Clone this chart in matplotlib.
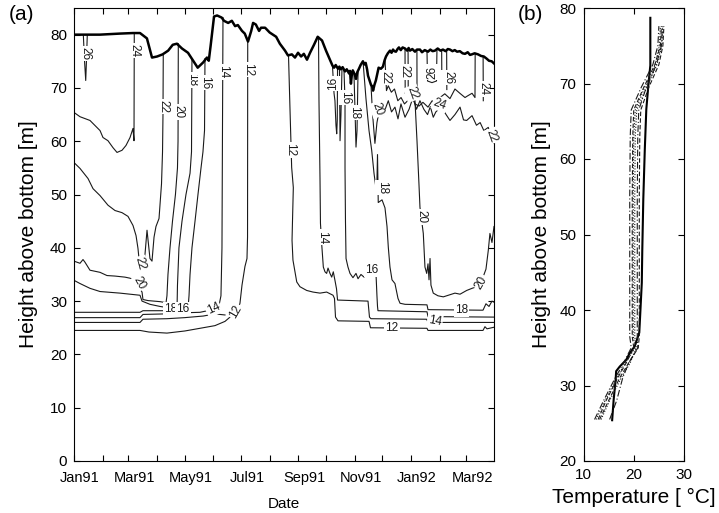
import numpy as np
import matplotlib
matplotlib.use("Agg")
import matplotlib.pyplot as plt
import matplotlib.dates as mdates
from matplotlib.transforms import ScaledTranslation

plt.rcParams['font.family'] = ['Liberation Sans', 'DejaVu Sans']

# ---------------- data (days since 1991-01-01, height above bottom [m]) ----------------
SURF_D = [0, 28, 50, 64, 71.5, 79, 84.5, 90, 96, 102, 107, 111.5, 117, 123.5, 131, 134, 140, 144, 146, 148,
          151.7, 155, 160, 162.5, 167, 171, 174.5, 177.5, 182, 185, 188.5, 192, 194, 197, 200.5, 202.6, 207,
          212, 219, 223, 228.6, 231.8, 236, 239.4, 242.7, 246, 249, 252.4, 255.7, 260, 264, 268.7, 273,
          278.4, 280, 281.7, 283.5, 286, 287.5, 289, 291, 293.6, 295.5, 298, 299, 300, 301, 302, 304, 305.5,
          307, 308.7, 310.5, 313, 314.5, 316, 317.5, 318.5, 320, 321.7, 323, 324, 325.5, 327, 328.5, 330,
          332.5, 334.7, 336.5, 338, 340, 342.3, 344, 345.6, 347, 348.8, 350.5, 352, 354, 356, 358.6, 361,
          362.5, 364, 366.5, 369.4, 371.5, 374.8, 377, 380, 383.5, 386, 388.5, 391, 394, 397, 399.7, 402.5,
          405, 407.3, 410, 412.5, 415, 418, 421, 423.6, 426.5, 429, 431, 434, 437.7, 441, 444, 447, 449.6,
          452.5, 455]
SURF_H = [80.0, 80.0, 80.2, 80.3, 80.3, 79.3, 75.7, 75.9, 76.3, 77.0, 78.1, 78.3, 77.4, 76.6, 74.6, 73.8, 74.8,
          75.7, 75.1, 77.9, 83.4, 83.6, 83.2, 82.6, 82.2, 82.6, 81.6, 81.8, 80.7, 80.2, 78.7, 80.7, 82.2, 81.9,
          80.7, 81.3, 81.3, 80.4, 79.6, 78.3, 77.0, 76.1, 76.3, 75.7, 76.6, 75.9, 76.4, 75.3, 76.6, 78.1, 79.6,
          78.9, 77.0,
          74.8, 74.2, 73.8, 74.3, 73.6, 74.0, 73.5, 73.9, 73.1, 73.5, 72.7, 73.2, 70.8, 72.5, 73.3, 72.6, 71.7,
          73.0, 73.6, 74.3, 75.0, 74.4, 74.7, 73.5, 72.3, 71.5, 70.6, 70.3, 69.5, 70.6, 71.4, 72.6, 73.8,
          73.6, 74.0, 75.2, 75.9, 76.5, 77.0, 76.6, 77.2, 76.9, 76.8, 77.3, 77.6, 77.1, 77.6, 77.4, 77.0,
          77.5, 77.0, 77.3, 76.8, 77.2, 77.2, 76.7, 77.1, 76.8, 77.2, 76.9, 77.0, 77.4, 77.0, 77.2, 76.9,
          77.3, 77.2, 76.9, 77.1, 76.8, 76.9, 76.5, 76.4, 76.7, 76.2, 76.3, 76.5, 76.3, 76.0, 75.9, 75.5, 75.1,
          75.0, 74.6]

# isotherms, left part (Jan-Jul 1991)
ISO26_D = [10.1, 11.4, 12.7, 13.5, 14.4]
ISO26_H = [80.0, 75.1, 71.4, 75.1, 80.0]
ISO24_D = [0, 6.5, 17.3, 28.2, 31.4, 36.8, 42.2, 46.6, 52, 56.3, 60.7, 63.9, 65.0, 65.3]
ISO24_H = [65.4, 64.6, 63.9, 62.0, 60.7, 60.1, 58.8, 57.9, 58.3, 59.2, 60.7, 62.4, 60.1, 80.3]
ISO22L_D = [0, 6.5, 15.2, 20.6, 28.2, 36.8, 44.4, 52, 58.5, 63.9, 67.2, 69.3, 70.4, 71.5, 75.8, 79.1, 82.3,
            84.5, 86.7, 88.8, 92.1, 94.8, 95.9, 96.4, 96.7]
ISO22L_H = [56.0, 54.9, 53.0, 51.1, 49.8, 48.0, 47.0, 46.6, 45.9, 44.2, 42.3, 39.9, 38.0, 36.7, 36.5, 43.3,
            38.0, 37.5, 42.0, 44.0, 45.5, 52.0, 58.0, 65.0, 76.3]
ISO20L_D = [0, 6.5, 9.75, 11.9, 17.3, 28.2, 35.7, 44.4, 55.2, 60.7, 65, 73.7, 74.7, 80.2, 93.2, 99.7, 100.7,
            101.8, 104, 106.7, 109.9, 112.1, 112.7, 113]
ISO20L_H = [37.5, 37.1, 37.8, 37.3, 35.8, 35.4, 34.8, 34.7, 34.5, 34.3, 33.9, 31.7, 30.3, 30.1, 29.9, 29.7,
            31.0, 35.0, 40.0, 45.0, 50.0, 55.0, 60.0, 78.3]
ISO18L_D = [0, 6.5, 17.3, 28.2, 49.8, 71.5, 73.7, 82.3, 93.2, 104, 109.4, 111.6, 112.1, 113.7, 117, 121.3,
            125.7, 127.3, 127.8]
ISO18L_H = [33.9, 33.3, 32.4, 31.8, 31.5, 31.1, 30.0, 29.4, 29.0, 28.7, 28.5, 28.5, 33.0, 40.0, 45.0, 50.0,
            54.0, 58.0, 75.4]
ISO16L_D = [0, 71.5, 74.7, 98.6, 106.2, 117, 123.5, 124.6, 125.7, 127.8, 131.1, 134.3, 137.6, 139.7, 141.4, 141.9]
ISO16L_H = [27.9, 27.9, 28.2, 28.2, 28.3, 28.4, 28.6, 31.0, 35.0, 40.0, 45.0, 50.0, 55.0, 58.0, 62.0, 75.5]
ISO14L_D = [0, 71.5, 74.7, 98.6, 117, 136.5, 141.9, 149.5, 157.1, 159.2, 159.7, 160.3, 160.8, 161.4]
ISO14L_H = [26.9, 26.9, 27.5, 27.6, 27.8, 27.9, 28.1, 28.4, 29.2, 31.0, 35.0, 40.0, 60.0, 83.2]
ISO13L_D = [0, 71.5, 74.7, 100.7, 120, 140, 152.7, 163.6]
ISO13L_H = [26.0, 26.0, 26.6, 26.7, 26.9, 27.2, 27.6, 27.4]
ISO12L_D = [0, 71.5, 81.2, 100.7, 120.2, 136.5, 152.7, 163.6, 169, 172.2, 174.4, 177.7, 179.8, 182, 185.2,
            187.4, 188, 188.2]
ISO12L_H = [24.5, 24.5, 24.2, 24.0, 24.4, 24.9, 25.4, 26.2, 27.0, 27.3, 27.9, 28.5, 29.6, 33.0, 36.5, 38.0,
            42.0, 79.0]

# isotherms, right part (Aug 1991 - Mar 1992)
ISO12R_D = [232.4, 234, 235.8, 237.6, 236.7, 236.2, 237.2, 241.3, 244.8, 252.1, 258.9, 266.5, 273.7, 280.6,
            282.2, 283.3, 286, 319.6, 321.2, 382.4, 383.5, 443.1, 445.2, 447.4, 455]
ISO12R_H = [76.0, 66.0, 55.1, 51.3, 45.0, 41.4, 37.7, 33.6, 32.7, 32.0, 31.7, 31.5, 31.7, 31.1, 30.5, 27.0,
            26.3, 26.2, 25.0, 24.9, 24.5, 24.5, 25.2, 24.8, 25.1]
ISO14R_D = [264.9, 265.4, 266.5, 267, 268.3, 270.1, 271.9, 273.7, 275.2, 277.3, 279.2, 280.9, 282.7, 284.4,
            285.5, 318.5, 320.1, 321.7, 382.1, 383.5, 455]
ISO14R_H = [79.5, 67.6, 53.0, 44.6, 40.8, 36.4, 35.5, 35.2, 36.2, 35.2, 34.5, 35.5, 33.9, 32.3, 30.2, 30.0,
            27.0, 26.7, 26.6, 26.0, 26.0]
ISO16A_D = [280, 281.7, 282.7, 283.8, 284.6, 285.2, 285.5]
ISO16A_H = [74.2, 69.0, 67.6, 63.0, 61.4, 64.0, 73.6]
ISO16B_D = [287.6, 288.2, 289.2, 290.3]
ISO16B_H = [73.7, 60.1, 65.0, 73.6]
ISO16R_D = [292.5, 293.6, 293.6, 294.1, 294.7, 296.8, 299, 302.2, 305.5, 307.7, 310.9, 314.2, 317.4, 322.5,
            327.2, 328.2, 328.8, 329.3, 382.4, 383.5, 455]
ISO16R_H = [73.3, 67.6, 55.0, 45.0, 38.0, 36.4, 35.2, 34.4, 35.2, 34.2, 35.0, 34.5, 35.5, 35.8, 35.0, 31.0,
            29.0, 28.2, 28.0, 27.1, 27.0]
ISO18A_D = [303.3, 304.4, 305.5, 306.6, 307.7]
ISO18A_H = [72.6, 66.0, 58.9, 62.0, 73.0]
ISO18R_D = [313.1, 316.3, 319.6, 322.5, 325, 327.9, 328.8, 329.6, 333.7, 336.9, 339.1, 340.5, 342.3, 344.5,
            347.7, 351, 353.2, 358.6, 382.4, 383.5, 439.8, 443.1, 446.3, 449.6, 452.8, 455]
ISO18R_H = [75.0, 68.0, 62.0, 58.3, 54.0, 50.2, 57.5, 48.5, 49.0, 47.5, 44.0, 40.1, 36.4, 34.0, 33.3, 30.5,
            29.6, 29.4, 29.3, 28.4, 28.3, 28.3, 29.5, 29.0, 30.0, 29.8]
ISO20R_D = [367.2, 369.4, 371.6, 373.7, 374.8, 378.4, 380.2, 382.1, 383.5, 384.6, 385.7, 386.7, 389.2, 394.3,
            400.1, 407.3, 412.7, 418.2, 425.4, 431.2, 436.2, 441, 446.3, 448.8, 450.6, 452.8, 455]
ISO20R_H = [68.5, 67.6, 60.0, 52.0, 47.6, 42.7, 36.4, 35.2, 37.0, 34.0, 38.0, 33.0, 31.5, 31.0, 30.8, 31.2,
            31.5, 31.3, 32.0, 32.4, 32.7, 33.5, 36.0, 39.5, 42.7, 41.0, 44.0]
ISO22R_D = [321.7, 323.5, 326.0, 328.2, 330.4, 331.5, 335, 340.5, 344, 347.7, 351, 354.2, 358.6, 363, 367.2,
            371, 374.8, 379, 383, 386, 389.2, 392, 395, 400.1, 405, 407.3, 412.7, 418.2, 422, 425.4, 431.2,
            436, 440, 444, 448.8, 452.8, 455]
ISO22R_H = [70.6, 65.0, 59.6, 63.5, 65.5, 66.4, 65.0, 67.6, 65.5, 66.4, 64.2, 67.0, 64.5, 66.0, 68.2, 66.0,
            67.6, 66.0, 65.0, 66.5, 64.5, 65.5, 66.0, 65.8, 64.5, 63.9, 65.0, 66.4, 64.0, 63.9, 64.8, 63.0,
            63.5, 62.0, 62.6, 60.5, 59.6]
ISO24R_D = [336.9, 338.5, 340.5, 343.8, 347.2, 350.8, 354.3, 358, 361.5, 366, 369.4, 373.8, 378, 383.5, 388,
            392, 396.5, 401.7, 407.3, 412.7, 418, 423.6, 426.3, 431.2, 434.4, 434.6]
ISO24R_H = [75.5, 69.5, 70.4, 69.2, 69.8, 67.6, 68.2, 67.0, 67.6, 68.6, 67.0, 66.6, 67.3, 66.4, 67.6, 66.8,
            68.2, 68.9, 68.0, 69.8, 69.0, 68.2, 68.5, 69.0, 68.2, 76.3]
V22B_D = [358.6, 358.8]
V22B_H = [77.4, 69.0]
V22C_D = [361.9, 362.1]
V22C_H = [77.3, 68.2]
V22D_D = [371.5, 371.6]
V22D_H = [77.1, 68.8]
V26A_D = [382.4, 383.0, 387.8, 392.7, 393.2]
V26A_H = [76.9, 71.3, 71.0, 71.3, 77.2]
V26B_D = [398.3, 398.5]
V26B_H = [77.1, 71.0]
V26C_D = [403.7, 403.9]
V26C_H = [77.1, 69.7]
V24B_D = [443.2, 443.4]
V24B_H = [75.9, 67.6]

# contour labels: text, day, height, rotation
LAB_TXT = ["26", "24", "22", "20", "18", "16", "14", "12", "22", "20", "18", "16", "14", "12",
           "12", "14", "16", "16", "18", "18", "16", "20", "20", "22", "22", "22", "26", "26", "24",
           "24", "22", "20", "18", "14", "12"]
LAB_D = [12.7, 65.2, 96.5, 112.9, 127.6, 142.5, 161.0, 188.1, 71.8, 70.5, 104.5, 118.0, 151.0, 175.5,
         234.2, 268.2, 281.0, 293.8, 303.0, 333.7, 322.5, 375.9, 329.0, 337.8, 357.5, 366.4, 387.8, 405.2,
         396.5, 443.3, 452.8, 441.0, 420.0, 391.0, 344.5]
LAB_H = [76.5, 77.0, 66.5, 65.5, 71.5, 71.0, 73.0, 73.5, 37.0, 33.4, 28.5, 28.5, 28.6, 28.0,
         58.4, 42.0, 70.8, 68.2, 65.4, 51.3, 35.8, 45.8, 66.0, 72.0, 73.0, 69.0, 73.0, 72.0,
         67.0, 69.8, 61.0, 33.5, 28.4, 26.3, 24.9]
LAB_ROT = [-90, -90, -90, -90, -90, -90, -90, -90, -75, -60, 0, 0, 25, 60,
           -90, -90, 90, -90, -90, -90, 0, -90, -70, -90, -90, -70, 90, -90,
           -20, -90, -70, 60, 0, -10, 0]

# panel (b): temperature profiles
PROF_SOLID_H = [25.4, 28.1, 30.8, 31.9, 32.5, 33.4, 34.3, 35.2, 37.0, 39.6, 43.6, 48.0, 54.7, 61.3, 66.6,
                69.7, 72.4, 78.7]
PROF_SOLID_T = [15.7, 16.0, 16.4, 16.5, 17.2, 18.5, 19.2, 20.2, 21.1, 21.3, 21.6, 21.7, 21.9, 22.2, 22.5,
                22.9, 23.3, 23.3]
PROF_H = [25.5, 28, 31, 33, 35, 36.5, 45, 55, 63, 66.5, 69.5, 72.5, 75, 77.6]
PROF_T1 = [12.2, 14.0, 16.3, 18.0, 19.5, 19.2, 19.2, 19.2, 19.3, 19.5, 21.5, 23.8, 24.8, 25.0]
PROF_T2 = [12.9, 14.5, 16.8, 18.5, 20.0, 19.7, 19.7, 19.7, 19.8, 20.0, 22.0, 24.2, 25.3, 25.5]
PROF_T3 = [13.5, 15.2, 17.5, 19.3, 20.5, 20.2, 20.2, 20.2, 20.3, 20.6, 22.6, 24.6, 25.6, 25.8]
PROF_T4 = [15.2, 16.6, 17.8, 19.0, 20.8, 20.7, 20.7, 20.7, 20.8, 21.0, 22.5, 24.5, 25.5, 25.7]
PROF_T5 = [13.2, 15.0, 17.2, 19.0, 20.9, 21.1, 21.1, 21.1, 21.2, 21.4, 23.0, 25.0, 25.8, 26.0]
PROF_T6 = [12.5, 14.3, 16.6, 18.3, 20.3, 19.9, 19.9, 19.9, 20.0, 20.3, 22.2, 24.3, 25.1, 25.3]

# ---------------- figure ----------------
fig = plt.figure(figsize=(7.19, 5.13), dpi=100)
axa = fig.add_axes([74 / 719, 52 / 513, 420 / 719, 453 / 513])
axb = fig.add_axes([583.5 / 719, 52 / 513, 100.5 / 719, 453 / 513])

base = mdates.date2num(np.datetime64('1991-01-01'))


def X(d):
    return base + np.asarray(d, dtype=float)


thin = dict(color='#1a1a1a', lw=0.8, solid_joinstyle='round')
iso_lines = [
    (ISO26_D, ISO26_H), (ISO24_D, ISO24_H), (ISO22L_D, ISO22L_H), (ISO20L_D, ISO20L_H),
    (ISO18L_D, ISO18L_H), (ISO16L_D, ISO16L_H), (ISO14L_D, ISO14L_H), (ISO13L_D, ISO13L_H),
    (ISO12L_D, ISO12L_H), (ISO12R_D, ISO12R_H), (ISO14R_D, ISO14R_H), (ISO16A_D, ISO16A_H),
    (ISO16B_D, ISO16B_H), (ISO16R_D, ISO16R_H), (ISO18A_D, ISO18A_H), (ISO18R_D, ISO18R_H),
    (ISO20R_D, ISO20R_H), (ISO22R_D, ISO22R_H), (ISO24R_D, ISO24R_H), (V22B_D, V22B_H),
    (V22C_D, V22C_H), (V22D_D, V22D_H), (V26A_D, V26A_H), (V26B_D, V26B_H), (V26C_D, V26C_H),
    (V24B_D, V24B_H),
]
for d, h in iso_lines:
    axa.plot(X(d), h, **thin)

axa.plot(X(SURF_D), SURF_H, color='black', lw=1.8, solid_joinstyle='round', zorder=4)

for t, d, h, r in zip(LAB_TXT, LAB_D, LAB_H, LAB_ROT):
    axa.text(X(d), h, t, rotation=r, ha='center', va='center', fontsize=8.5, color='#1a1a1a',
             rotation_mode='anchor', zorder=3,
             bbox=dict(boxstyle='square,pad=0.1', fc='white', ec='none'))

axa.set_xlim(X(0), X(455))
axa.set_ylim(0, 85)
axa.xaxis.set_major_locator(mdates.MonthLocator())
axa.xaxis.set_major_formatter(mdates.DateFormatter('%b%y'))
axa.set_yticks(range(0, 81, 10))

for ax in (axa, axb):
    ax.tick_params(direction='in', length=4, width=0.8, top=True, right=True, labelsize=11, pad=5)
    for s in ax.spines.values():
        s.set_linewidth(0.8)
axa.tick_params(axis='x', pad=7, labelsize=10.5)

fig.canvas.draw()
for i, lab in enumerate(axa.get_xticklabels()):
    if i % 2 == 1:
        lab.set_visible(False)
    lab.set_transform(lab.get_transform() + ScaledTranslation(6 / 100, 0, fig.dpi_scale_trans))
axa.set_xlabel('Date', fontsize=11, labelpad=9)
axa.set_ylabel('Height above bottom [m]', fontsize=15, labelpad=9)
axa.text(-0.155, 0.985, '(a)', transform=axa.transAxes, fontsize=15, ha='left', va='center')

# panel (b)
axb.plot(PROF_SOLID_T, PROF_SOLID_H, color='black', lw=1.5)
styles = [(PROF_T1, (0, (6, 2, 1, 2))), (PROF_T2, (0, (4, 2))), (PROF_T3, (0, (1, 1.5))),
          (PROF_T4, (0, (6, 2, 1, 2))), (PROF_T5, (0, (4, 2))), (PROF_T6, (0, (1, 1.5)))]
for t, ls in styles:
    axb.plot(t, PROF_H, color='#1a1a1a', lw=0.8, linestyle=ls)
axb.set_xlim(10, 30)
axb.set_ylim(20, 80)
axb.set_xticks([10, 20, 30])
axb.set_yticks(range(20, 81, 10))
axb.set_xlabel('Temperature [ °C]', fontsize=15, labelpad=4)
axb.set_ylabel('Height above bottom [m]', fontsize=15, labelpad=6)
axb.text(-0.4, 0.985, '(b)', transform=axb.transAxes, fontsize=15, ha='right', va='center')

fig.savefig('out.png', dpi=100)
